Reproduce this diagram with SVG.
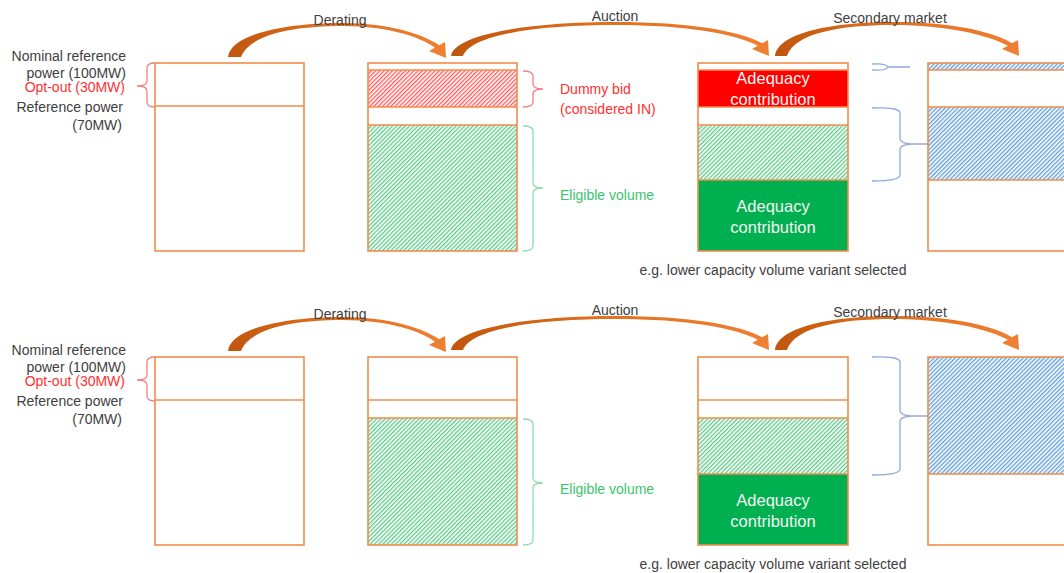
<svg xmlns="http://www.w3.org/2000/svg" width="1064" height="573" viewBox="0 0 1064 573">
  <defs>
    <style>
      .box { fill: #ffffff; stroke: #f08c4c; stroke-width: 1.6; }
      .frame { fill: none; stroke: #f08c4c; stroke-width: 1.6; }
      .div { stroke: #f08c4c; stroke-width: 1.6; fill: none; }
      .lbl { font-family: "Liberation Sans", Arial, sans-serif; font-size: 14px; fill: #404040; }
      .red { fill: #ff3030; }
      .grn { fill: #3cc46e; }
      .adq { font-family: "Liberation Sans", Arial, sans-serif; font-size: 16.5px; fill: #f4f4f4; text-anchor: middle; }
      .brace-red { fill: none; stroke: #f28080; stroke-width: 1.3; }
      .brace-grn { fill: none; stroke: #8fdcaa; stroke-width: 1.3; }
      .brace-blu { fill: none; stroke: #8faadc; stroke-width: 1.3; }
      .arrow { fill: url(#arrowGrad); }
    </style>
    <linearGradient id="arrowGrad" x1="0" y1="0" x2="1" y2="0">
      <stop offset="0" stop-color="#c0560e"/>
      <stop offset="0.5" stop-color="#e2711f"/>
      <stop offset="1" stop-color="#ef8033"/>
    </linearGradient>
    <pattern id="hatchGreen" width="3" height="3" patternUnits="userSpaceOnUse" patternTransform="rotate(45)">
      <rect width="3" height="3" fill="#ffffff"/>
      <line x1="0.7" y1="0" x2="0.7" y2="3" stroke="#4cc47e" stroke-width="1.2"/>
    </pattern>
    <pattern id="hatchRed" width="3" height="3" patternUnits="userSpaceOnUse" patternTransform="rotate(45)">
      <rect width="3" height="3" fill="#ffffff"/>
      <line x1="0.7" y1="0" x2="0.7" y2="3" stroke="#ff4848" stroke-width="1.2"/>
    </pattern>
    <pattern id="hatchBlue" width="3" height="3" patternUnits="userSpaceOnUse" patternTransform="rotate(45)">
      <rect width="3" height="3" fill="#ffffff"/>
      <line x1="0.7" y1="0" x2="0.7" y2="3" stroke="#5a9ad8" stroke-width="1.3"/>
    </pattern>
  </defs>

  <rect width="1064" height="573" fill="#ffffff"/>

  <!-- ===== Upper scenario ===== -->
  <g id="upper">
    <g id="u-labels">
      <text class="lbl" x="126" y="61" text-anchor="end">Nominal reference</text>
      <text class="lbl" x="126" y="78" text-anchor="end">power (100MW)</text>
      <text class="lbl red" x="125" y="92" text-anchor="end">Opt-out (30MW)</text>
      <text class="lbl" x="123" y="112" text-anchor="end">Reference power</text>
      <text class="lbl" x="122" y="130" text-anchor="end">(70MW)</text>
      <path class="brace-red" d="M155,63 Q147,63 147,68 L147,81 Q147,86 137,86 Q147,86 147,91 L147,102 Q147,107 155,107"/>
    </g>

    <g id="u-nominal">
      <rect class="box" x="155" y="63" width="149" height="188"/>
      <line class="div" x1="155" y1="106" x2="304" y2="106"/>
    </g>

    <g id="u-derated">
      <rect x="368" y="70" width="149" height="37" fill="url(#hatchRed)"/>
      <rect x="368" y="125" width="149" height="126" fill="url(#hatchGreen)"/>
      <line class="div" x1="368" y1="70" x2="517" y2="70"/>
      <line class="div" x1="368" y1="107" x2="517" y2="107"/>
      <line class="div" x1="368" y1="125" x2="517" y2="125"/>
      <rect class="frame" x="368" y="63" width="149" height="188"/>
    </g>

    <g id="u-dummy-note">
      <path class="brace-red" d="M523,71 Q533,71 533,76 L533,84 Q533,89 543,89 Q533,89 533,94 L533,102 Q533,107 523,107"/>
      <text class="lbl red" x="560" y="94">Dummy bid</text>
      <text class="lbl red" x="560" y="114">(considered IN)</text>
    </g>

    <g id="u-eligible-note">
      <path class="brace-grn" d="M523,126 Q533,126 533,131 L533,183 Q533,188 543,188 Q533,188 533,193 L533,246 Q533,251 523,251"/>
      <text class="lbl grn" x="560" y="200">Eligible volume</text>
    </g>

    <g id="u-auction">
      <rect x="698" y="70" width="150" height="37" fill="#ff0000"/>
      <rect x="698" y="125" width="150" height="55" fill="url(#hatchGreen)"/>
      <rect x="698" y="180" width="150" height="71" fill="#00b050"/>
      <line class="div" x1="698" y1="70" x2="848" y2="70"/>
      <line class="div" x1="698" y1="107" x2="848" y2="107"/>
      <line class="div" x1="698" y1="125" x2="848" y2="125"/>
      <line class="div" x1="698" y1="180" x2="848" y2="180"/>
      <rect class="frame" x="698" y="63" width="150" height="188"/>
      <text class="adq" x="773" y="84">Adequacy</text>
      <text class="adq" x="773" y="105">contribution</text>
      <text class="adq" x="773" y="212">Adequacy</text>
      <text class="adq" x="773" y="233">contribution</text>
    </g>

    <g id="u-transfer-braces">
      <path class="brace-blu" d="M872,64 Q886,63 888,67 Q886,71 872,70 M888,67 L910,67"/>
      <path class="brace-blu" d="M872,108 Q900,107 900,113 L900,138 Q900,144 914,144 L928,144 M914,144 Q900,144 900,150 L900,175 Q900,181 872,181"/>
    </g>

    <g id="u-secondary">
      <rect x="928" y="63" width="142" height="7" fill="url(#hatchBlue)"/>
      <rect x="928" y="107" width="142" height="73" fill="url(#hatchBlue)"/>
      <line class="div" x1="928" y1="70" x2="1070" y2="70"/>
      <line class="div" x1="928" y1="107" x2="1070" y2="107"/>
      <line class="div" x1="928" y1="180" x2="1070" y2="180"/>
      <rect class="frame" x="928" y="63" width="142" height="188"/>
    </g>

    <text class="lbl" x="773" y="275" text-anchor="middle">e.g. lower capacity volume variant selected</text>
  </g>

  <!-- ===== Lower scenario ===== -->
  <g id="lower" transform="translate(0,294)">
    <g id="l-labels">
      <text class="lbl" x="126" y="61" text-anchor="end">Nominal reference</text>
      <text class="lbl" x="126" y="78" text-anchor="end">power (100MW)</text>
      <text class="lbl red" x="125" y="92" text-anchor="end">Opt-out (30MW)</text>
      <text class="lbl" x="123" y="112" text-anchor="end">Reference power</text>
      <text class="lbl" x="122" y="130" text-anchor="end">(70MW)</text>
      <path class="brace-red" d="M155,63 Q147,63 147,68 L147,81 Q147,86 137,86 Q147,86 147,91 L147,102 Q147,107 155,107"/>
    </g>

    <g id="l-nominal">
      <rect class="box" x="155" y="63" width="149" height="188"/>
      <line class="div" x1="155" y1="106" x2="304" y2="106"/>
    </g>

    <g id="l-derated">
      <rect x="368" y="124" width="149" height="127" fill="url(#hatchGreen)"/>
      <line class="div" x1="368" y1="106" x2="517" y2="106"/>
      <line class="div" x1="368" y1="124" x2="517" y2="124"/>
      <rect class="frame" x="368" y="63" width="149" height="188"/>
    </g>

    <g id="l-eligible-note">
      <path class="brace-grn" d="M523,125 Q533,125 533,130 L533,184 Q533,189 543,189 Q533,189 533,194 L533,246 Q533,251 523,251"/>
      <text class="lbl grn" x="560" y="200">Eligible volume</text>
    </g>

    <g id="l-auction">
      <rect x="698" y="124" width="150" height="56" fill="url(#hatchGreen)"/>
      <rect x="698" y="180" width="150" height="71" fill="#00b050"/>
      <line class="div" x1="698" y1="106" x2="848" y2="106"/>
      <line class="div" x1="698" y1="124" x2="848" y2="124"/>
      <line class="div" x1="698" y1="180" x2="848" y2="180"/>
      <rect class="frame" x="698" y="63" width="150" height="188"/>
      <text class="adq" x="773" y="212">Adequacy</text>
      <text class="adq" x="773" y="233">contribution</text>
    </g>

    <g id="l-transfer-brace">
      <path class="brace-blu" d="M872,63 Q900,62 900,68 L900,116 Q900,122 914,122 L928,122 M914,122 Q900,122 900,128 L900,175 Q900,181 872,181"/>
    </g>

    <g id="l-secondary">
      <rect x="928" y="63" width="142" height="117" fill="url(#hatchBlue)"/>
      <line class="div" x1="928" y1="180" x2="1070" y2="180"/>
      <rect class="frame" x="928" y="63" width="142" height="188"/>
    </g>

    <text class="lbl" x="773" y="275" text-anchor="middle">e.g. lower capacity volume variant selected</text>
  </g>

  <!-- ===== Curved process arrows ===== -->
  <g id="connectors">
    <g id="arrows-upper">
      <path class="arrow" d="M228,57 C231,33 290,23 342,23 C390,23 425,35 439.2,45.3 L445,42 L446,58 L429,51 L434.8,47.7 C422,38 390,26 342,26 C295,26 250,34 241,57 Z"/>
      <path class="arrow" d="M451,56 C455,32 540,22 615,22 C690,22 740,31 762.2,43.3 L768,40 L769,56 L752,49 L757.8,45.7 C735,34 688,25 615,25 C545,25 472,33 463,56 Z"/>
      <path class="arrow" d="M775,56 C778,32 835,22 893,22 C950,22 992,31 1012.2,43.3 L1018,40 L1019,56 L1002,49 L1007.8,45.7 C988,35 946,25 893,25 C840,25 795,33 787,56 Z"/>
      <text class="lbl" x="340" y="25" text-anchor="middle">Derating</text>
      <text class="lbl" x="615" y="21" text-anchor="middle">Auction</text>
      <text class="lbl" x="890" y="23" text-anchor="middle">Secondary market</text>
    </g>
    <g id="arrows-lower" transform="translate(0,294)">
      <path class="arrow" d="M228,57 C231,33 290,23 342,23 C390,23 425,35 439.2,45.3 L445,42 L446,58 L429,51 L434.8,47.7 C422,38 390,26 342,26 C295,26 250,34 241,57 Z"/>
      <path class="arrow" d="M451,56 C455,32 540,22 615,22 C690,22 740,31 762.2,43.3 L768,40 L769,56 L752,49 L757.8,45.7 C735,34 688,25 615,25 C545,25 472,33 463,56 Z"/>
      <path class="arrow" d="M775,56 C778,32 835,22 893,22 C950,22 992,31 1012.2,43.3 L1018,40 L1019,56 L1002,49 L1007.8,45.7 C988,35 946,25 893,25 C840,25 795,33 787,56 Z"/>
      <text class="lbl" x="340" y="25" text-anchor="middle">Derating</text>
      <text class="lbl" x="615" y="21" text-anchor="middle">Auction</text>
      <text class="lbl" x="890" y="23" text-anchor="middle">Secondary market</text>
    </g>
  </g>
</svg>
